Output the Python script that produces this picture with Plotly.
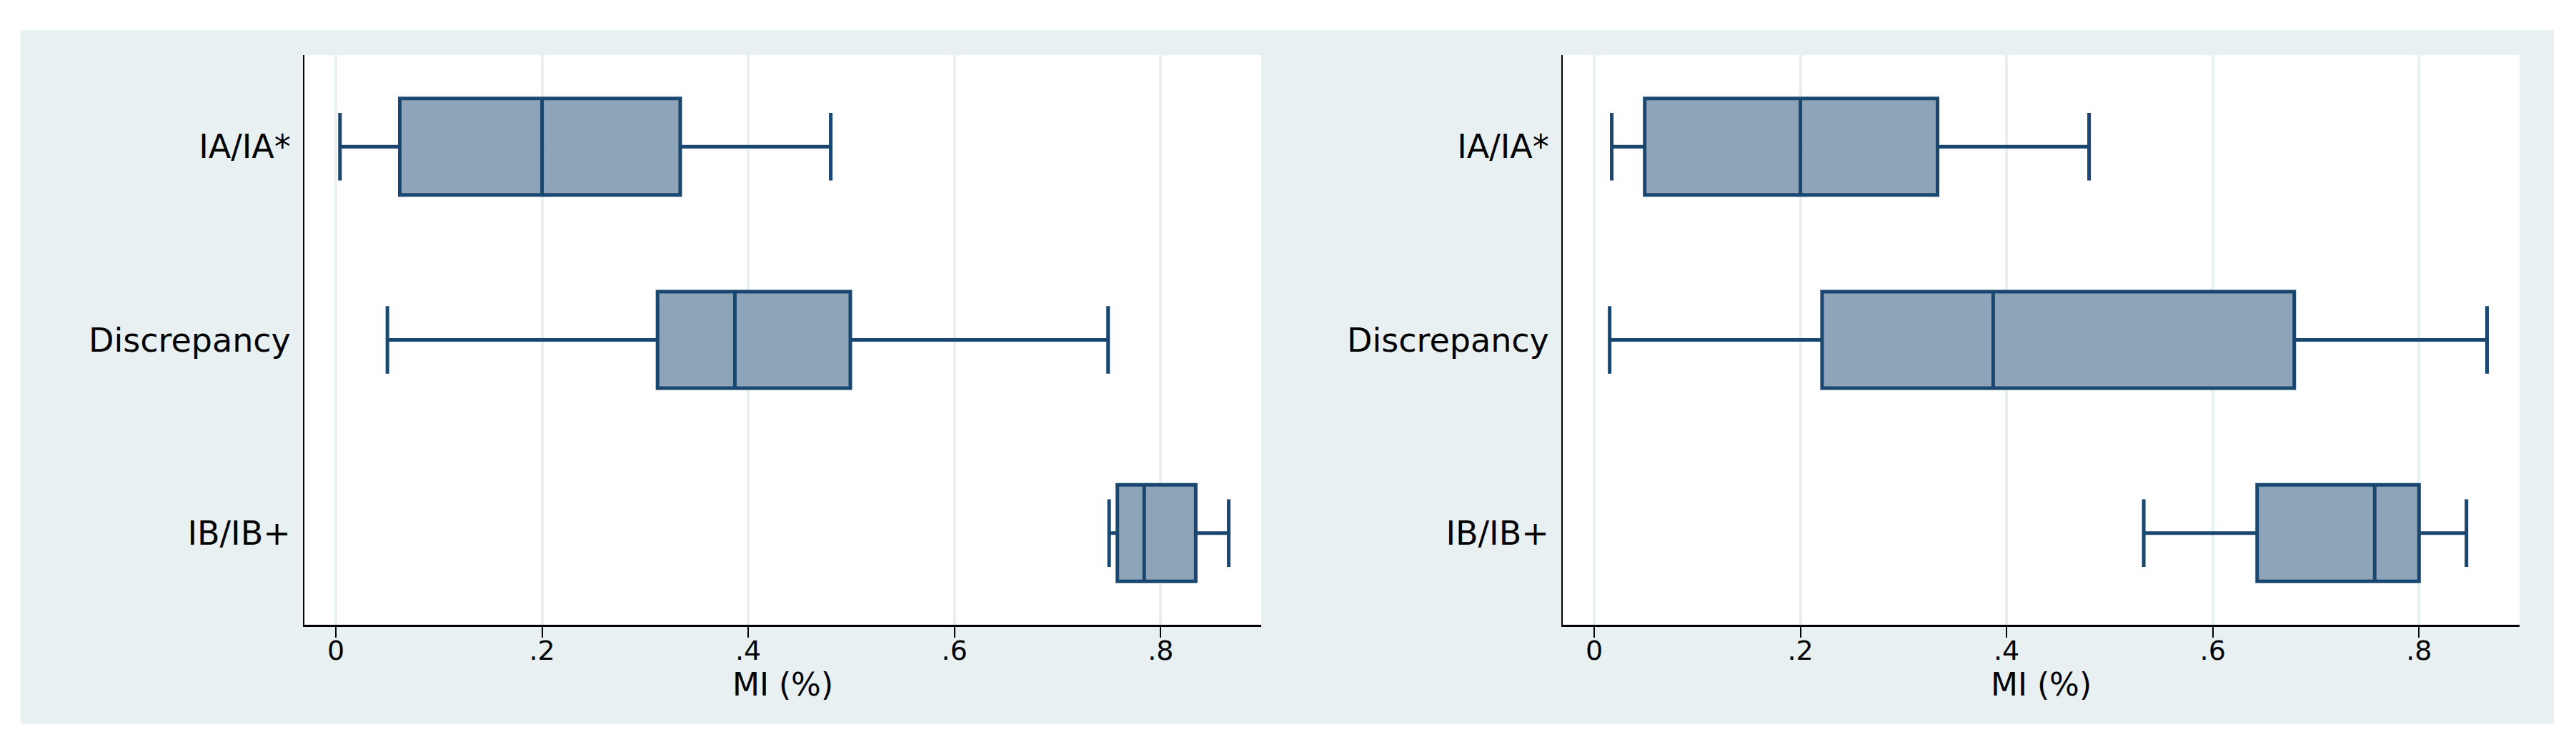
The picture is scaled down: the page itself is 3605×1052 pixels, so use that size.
import plotly.graph_objects as go

# ---- data ----
categories = ["IA/IA*", "Discrepancy", "IB/IB+"]

left_lower = [0.004, 0.050, 0.750]
left_q1 = [0.062, 0.312, 0.758]
left_median = [0.200, 0.387, 0.784]
left_q3 = [0.334, 0.499, 0.834]
left_upper = [0.480, 0.749, 0.866]

right_lower = [0.017, 0.015, 0.533]
right_q1 = [0.049, 0.221, 0.643]
right_median = [0.200, 0.387, 0.757]
right_q3 = [0.333, 0.679, 0.800]
right_upper = [0.480, 0.866, 0.846]

tick_vals = [0, 0.2, 0.4, 0.6, 0.8]
tick_text = ["0", ".2", ".4", ".6", ".8"]
x_title = "MI (%)"

# ---- style ----
W, H = 3605, 1052
LINE = "#1A476F"
FILL = "#8EA4B8"
BG = "#E8F0F2"
FONT = "DejaVu Sans"

fig = go.Figure()

for lo, q1, med, q3, up, xa, ya in [
    (left_lower, left_q1, left_median, left_q3, left_upper, "x", "y"),
    (right_lower, right_q1, right_median, right_q3, right_upper, "x2", "y2"),
]:
    fig.add_trace(go.Box(
        orientation="h",
        y=categories,
        q1=q1, median=med, q3=q3,
        lowerfence=lo, upperfence=up,
        boxpoints=False,
        width=0.5,
        whiskerwidth=0.7,
        fillcolor=FILL,
        line=dict(color=LINE, width=5),
        xaxis=xa, yaxis=ya,
        showlegend=False,
    ))

def px_x(v):
    return v / W

def px_y(v):
    return 1 - v / H

dom_left = [px_x(426), px_x(1765)]
dom_right = [px_x(2187), px_x(3526)]
dom_y = [px_y(874), px_y(77)]
xr = [-0.0305, 0.8975]
yr = [2.475, -0.475]

xaxis_common = dict(
    range=xr, tickvals=tick_vals, ticktext=tick_text,
    showgrid=True, gridcolor=BG, gridwidth=4,
    showline=True, linecolor="black", linewidth=2.5,
    ticks="outside", ticklen=15, tickwidth=2, tickcolor="black",
    tickfont=dict(family=FONT, size=38, color="black"),
    ticklabelstandoff=-14,
    zeroline=False, automargin=False, fixedrange=True,
)
yaxis_common = dict(
    type="category", categoryorder="array", categoryarray=categories,
    range=yr, showgrid=False, zeroline=False,
    showline=True, linecolor="black", linewidth=2,
    ticks="", ticklabelstandoff=8,
    tickfont=dict(family=FONT, size=46, color="black"),
    automargin=False, fixedrange=True, domain=dom_y,
)

shapes = [
    dict(type="rect", xref="paper", yref="paper",
         x0=px_x(29), x1=px_x(3574), y0=px_y(1013), y1=px_y(42),
         fillcolor=BG, line=dict(width=0), layer="below"),
    dict(type="rect", xref="paper", yref="paper",
         x0=dom_left[0], x1=dom_left[1], y0=dom_y[0], y1=dom_y[1],
         fillcolor="white", line=dict(width=0), layer="below"),
    dict(type="rect", xref="paper", yref="paper",
         x0=dom_right[0], x1=dom_right[1], y0=dom_y[0], y1=dom_y[1],
         fillcolor="white", line=dict(width=0), layer="below"),
]

annotations = []
for dom in (dom_left, dom_right):
    annotations.append(dict(
        text=x_title, xref="paper", yref="paper",
        x=(dom[0] + dom[1]) / 2, y=px_y(957),
        xanchor="center", yanchor="middle", showarrow=False,
        font=dict(family=FONT, size=44, color="black"),
    ))

fig.update_layout(
    width=W, height=H,
    margin=dict(l=0, r=0, t=0, b=0),
    paper_bgcolor="white", plot_bgcolor="white",
    xaxis=dict(domain=dom_left, anchor="y", **xaxis_common),
    yaxis=dict(anchor="x", **yaxis_common),
    xaxis2=dict(domain=dom_right, anchor="y2", **xaxis_common),
    yaxis2=dict(anchor="x2", **yaxis_common),
    shapes=shapes,
    annotations=annotations,
    font=dict(family=FONT, color="black"),
)

fig.write_html("out.html")
